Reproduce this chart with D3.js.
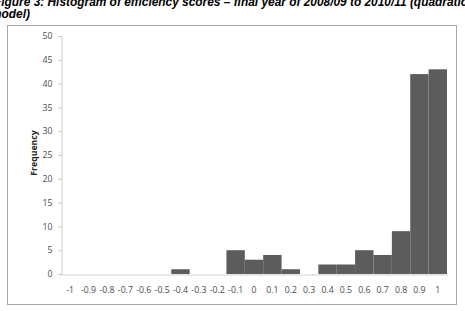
<!DOCTYPE html>
<html>
  <head>
    <meta charset="UTF-8" />
    <style>
      body {
        margin: 0;
        background: #fff;
        overflow: hidden;
      }
      .title {
        font-family: 'Liberation Sans', Arial, sans-serif;
        font-weight: bold;
        font-style: italic;
        font-size: 11.9px;
        fill: #000;
      }
      .tick text {
        font-family: 'Open Sans', 'DejaVu Sans', sans-serif;
        font-size: 8.7px;
        fill: #4a4a4a;
      }
    </style>
  </head>
  <body>
    <svg></svg>

    <script src="https://d3js.org/d3.v7.min.js"></script>

    <script>
      // efficiency score bins and counts
      let bins = ['-1', '-0.9', '-0.8', '-0.7', '-0.6', '-0.5', '-0.4', '-0.3', '-0.2', '-0.1',
        '0', '0.1', '0.2', '0.3', '0.4', '0.5', '0.6', '0.7', '0.8', '0.9', '1']
      let counts = [0, 0, 0, 0, 0, 0, 1, 0, 0, 5, 3, 4, 1, 0, 2, 2, 5, 4, 9, 42, 43]
      let yTicks = [0, 5, 10, 15, 20, 25, 30, 35, 40, 45, 50]

      let width = 465,
        height = 311

      let svg = d3.select('svg').attr('width', width).attr('height', height)

      // title (clipped by the page edge in the source)
      let title = svg.append('text').attr('class', 'title').attr('x', -6)
      title.append('tspan').attr('y', 6).text('Figure 3: Histogram of efficiency scores \u2013 final year of 2008/09 to 2010/11 (quadratic')
      title.append('tspan').attr('x', -9).attr('y', 18).text('model)')

      // chart frame
      svg
        .append('rect')
        .attr('x', 7.5)
        .attr('y', 25.5)
        .attr('width', 449)
        .attr('height', 279)
        .attr('fill', 'none')
        .attr('stroke', '#a6a6a6')
        .attr('stroke-width', 1)

      let x = d3.scaleBand().domain(bins).range([61, 447]).padding(0)
      let y = d3.scaleLinear().domain([0, 50]).range([274, 36])

      svg
        .append('g')
        .selectAll('rect')
        .data(counts)
        .enter()
        .append('rect')
        .attr('x', (d, i) => x(bins[i]))
        .attr('y', (d) => y(d))
        .attr('width', x.bandwidth())
        .attr('height', (d) => y(0) - y(d))
        .attr('fill', '#5c5c5c')

      // y axis
      let yAxis = svg
        .append('g')
        .attr('transform', 'translate(61.5,0)')
        .call(d3.axisLeft(y).tickValues(yTicks).tickSize(3).tickPadding(6))
      yAxis.select('.domain').attr('stroke', '#d0d0d0')
      yAxis.selectAll('.tick line').attr('stroke', '#bfbfbf')

      // x axis
      let xAxis = svg
        .append('g')
        .attr('transform', 'translate(0,274.5)')
        .call(d3.axisBottom(x).tickSize(0).tickPadding(12))
      xAxis.select('.domain').attr('stroke', '#d0d0d0')

      svg
        .append('text')
        .attr('transform', 'translate(37,153) rotate(-90)')
        .attr('text-anchor', 'middle')
        .style('font-family', "'Open Sans', 'DejaVu Sans', sans-serif")
        .style('font-size', '8.7px')
        .style('font-weight', 'bold')
        .attr('fill', '#222')
        .text('Frequency')
    </script>
  </body>
</html>
